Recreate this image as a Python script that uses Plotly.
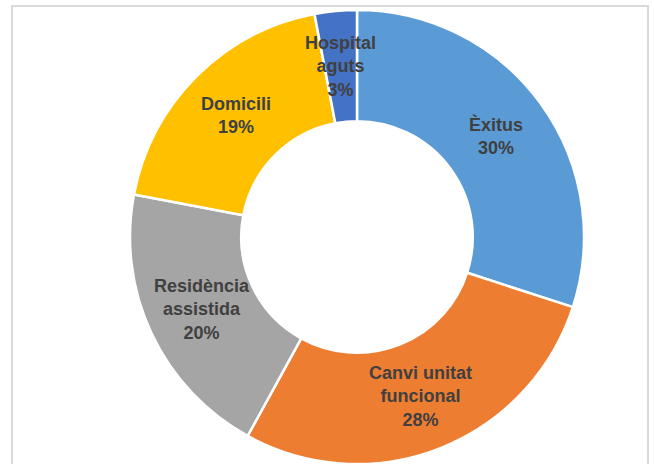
import math
import plotly.graph_objects as go

labels = ["Èxitus", "Canvi unitat<br>funcional", "Residència<br>assistida", "Domicili", "Hospital<br>aguts"]
values = [30, 28, 20, 19, 3]
colors = ["#5B9BD5", "#ED7D31", "#A5A5A5", "#FFC000", "#4472C4"]

W, H = 654, 464
TOP = 10
R_px = (H - TOP) / 2
cx_px = 357
cy_px = TOP + R_px
HOLE = 0.51
half = 0.36

fig = go.Figure(go.Pie(
    labels=labels,
    values=values,
    sort=False,
    direction="clockwise",
    rotation=0,
    hole=HOLE,
    marker=dict(colors=colors, line=dict(color="white", width=2.5)),
    textinfo="none",
    domain=dict(x=[cx_px / W - half, cx_px / W + half], y=[0, (H - TOP) / H]),
    showlegend=False,
    hoverinfo="label+percent",
))

# data labels at the middle of each slice (mid angle, mid ring)
total = sum(values)
r_mid = R_px * (1 + HOLE) / 2
annotations = []
cum = 0
for lab, v in zip(labels, values):
    mid = (cum + v / 2) / total * 2 * math.pi
    cum += v
    x = cx_px + r_mid * math.sin(mid)
    y = cy_px - r_mid * math.cos(mid)
    annotations.append(dict(
        x=x / W, y=(H - y) / H, xref="paper", yref="paper",
        text=f"{lab}<br>{round(v / total * 100)}%",
        showarrow=False, xanchor="center", yanchor="middle", align="center",
        font=dict(family="Liberation Sans, Arial, sans-serif", size=18, color="#404040", weight="bold"),
    ))

fig.update_layout(
    width=W, height=H,
    margin=dict(l=0, r=0, t=0, b=0),
    paper_bgcolor="white",
    plot_bgcolor="white",
    annotations=annotations,
    shapes=[dict(
        type="rect", xref="paper", yref="paper",
        x0=12 / W, x1=648 / W, y0=-0.05, y1=(H - 6) / H,
        line=dict(color="#d9d9d9", width=2),
        fillcolor="rgba(0,0,0,0)", layer="below",
    )],
)

fig.write_html("out.html", config={"displayModeBar": False},
               post_script="document.body.style.margin='0';")
